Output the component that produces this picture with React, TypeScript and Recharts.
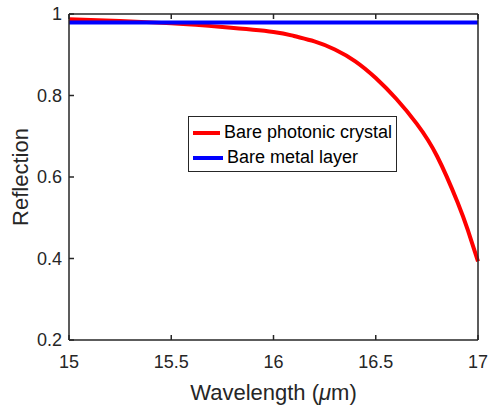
import { LineChart, Line, XAxis, YAxis, Legend } from 'recharts';

const wavelength = [15, 15.25, 15.5, 15.75, 16, 16.1, 16.2, 16.3, 16.4, 16.5, 16.6, 16.7, 16.8, 16.9, 16.95, 17];
const photonicCrystal = [0.987, 0.983, 0.977, 0.968, 0.956, 0.946, 0.933, 0.913, 0.884, 0.843, 0.792, 0.731, 0.651, 0.538, 0.47, 0.393];
const metalLayer = [0.979, 0.979, 0.979, 0.979, 0.979, 0.979, 0.979, 0.979, 0.979, 0.979, 0.979, 0.979, 0.979, 0.979, 0.979, 0.979];

const seriesNames = ['Bare photonic crystal', 'Bare metal layer'];
const xTicks = [15, 15.5, 16, 16.5, 17];
const yTicks = [0.2, 0.4, 0.6, 0.8, 1];

const data = wavelength.map((w, i) => ({ w, pc: photonicCrystal[i], metal: metalLayer[i] }));

const FONT = '"Liberation Sans", Arial, sans-serif';
const INK = '#262626';

const BottomTick = (props: any) => {
  const { x, y, payload } = props;
  return (
    <g>
      <line x1={x} x2={x} y1={y - 8} y2={y - 13} stroke={INK} strokeWidth={1.5} />
      <text x={x} y={y + 20} textAnchor="middle" fontSize={18} fontFamily={FONT} fill={INK}>
        {payload.value}
      </text>
    </g>
  );
};

const LeftTick = (props: any) => {
  const { x, y, payload } = props;
  return (
    <g>
      <line x1={x + 7} x2={x + 12} y1={y} y2={y} stroke={INK} strokeWidth={1.5} />
      <text x={x} y={y + 6} textAnchor="end" fontSize={18} fontFamily={FONT} fill={INK}>
        {payload.value}
      </text>
    </g>
  );
};

const TopTick = (props: any) => {
  const { x, y } = props;
  return <line x1={x} x2={x} y1={y} y2={y + 5} stroke={INK} strokeWidth={1.5} />;
};

const RightTick = (props: any) => {
  const { x, y } = props;
  return <line x1={x} x2={x - 5} y1={y} y2={y} stroke={INK} strokeWidth={1.5} />;
};

const renderLegend = (props: any) => {
  const items = [...(props.payload || [])].sort(
    (a: any, b: any) => seriesNames.indexOf(a.value) - seriesNames.indexOf(b.value)
  );
  return (
    <div
      style={{
        border: `1px solid ${INK}`,
        background: '#fff',
        padding: '3px 4px',
        fontFamily: FONT,
        fontSize: 18,
        color: '#000',
        boxSizing: 'border-box',
        height: 56,
        whiteSpace: 'nowrap',
      }}
    >
      {items.map((p: any) => (
        <div key={p.value} style={{ display: 'flex', alignItems: 'center', height: 25 }}>
          <span style={{ display: 'inline-block', width: 30, height: 4, background: p.color, marginRight: 4 }} />
          <span>{p.value}</span>
        </div>
      ))}
    </div>
  );
};

export default function App() {
  return (
    <div style={{ position: 'absolute', left: 0, top: 0, background: '#fff' }}>
      <LineChart width={488} height={408} data={data} margin={{ top: 0, right: 0, bottom: 0, left: 0 }}>
        <XAxis
          dataKey="w"
          type="number"
          domain={[15, 17]}
          ticks={xTicks}
          height={68}
          tickSize={0}
          tickMargin={8}
          tickLine={false}
          axisLine={{ stroke: INK, strokeWidth: 1.5 }}
          tick={<BottomTick />}
          interval={0}
          label={(p: any) => {
            const vb = p.viewBox;
            return (
              <text x={vb.x + vb.width / 2} y={400} textAnchor="middle" fontSize={22} fontFamily={FONT} fill={INK}>
                Wavelength (<tspan fontStyle="italic">μ</tspan>m)
              </text>
            );
          }}
        />
        <XAxis
          xAxisId="top"
          dataKey="w"
          orientation="top"
          type="number"
          domain={[15, 17]}
          ticks={xTicks}
          height={14}
          tickSize={0}
          tickMargin={0}
          tickLine={false}
          axisLine={{ stroke: INK, strokeWidth: 1.5 }}
          tick={<TopTick />}
          interval={0}
        />
        <YAxis
          type="number"
          domain={[0.2, 1]}
          ticks={yTicks}
          width={69}
          tickSize={0}
          tickMargin={7}
          tickLine={false}
          axisLine={{ stroke: INK, strokeWidth: 1.5 }}
          tick={<LeftTick />}
          interval={0}
          label={(p: any) => {
            const vb = p.viewBox;
            const cy = vb.y + vb.height / 2;
            return (
              <text
                x={28}
                y={cy}
                transform={`rotate(-90 28 ${cy})`}
                textAnchor="middle"
                fontSize={22}
                fontFamily={FONT}
                fill={INK}
              >
                Reflection
              </text>
            );
          }}
        />
        <YAxis
          yAxisId="right"
          orientation="right"
          type="number"
          domain={[0.2, 1]}
          ticks={yTicks}
          width={10}
          tickSize={0}
          tickMargin={0}
          tickLine={false}
          axisLine={{ stroke: INK, strokeWidth: 1.5 }}
          tick={<RightTick />}
          interval={0}
        />
        <Legend
          layout="vertical"
          align="center"
          verticalAlign="middle"
          content={renderLegend}
          wrapperStyle={{ left: 188, top: 116, width: 209 }}
        />
        <Line
          type="natural"
          dataKey="pc"
          name={seriesNames[0]}
          stroke="#ff0000"
          strokeWidth={4}
          dot={false}
          isAnimationActive={false}
        />
        <Line
          type="natural"
          dataKey="metal"
          name={seriesNames[1]}
          stroke="#0000ff"
          strokeWidth={4}
          dot={false}
          isAnimationActive={false}
        />
      </LineChart>
    </div>
  );
}
